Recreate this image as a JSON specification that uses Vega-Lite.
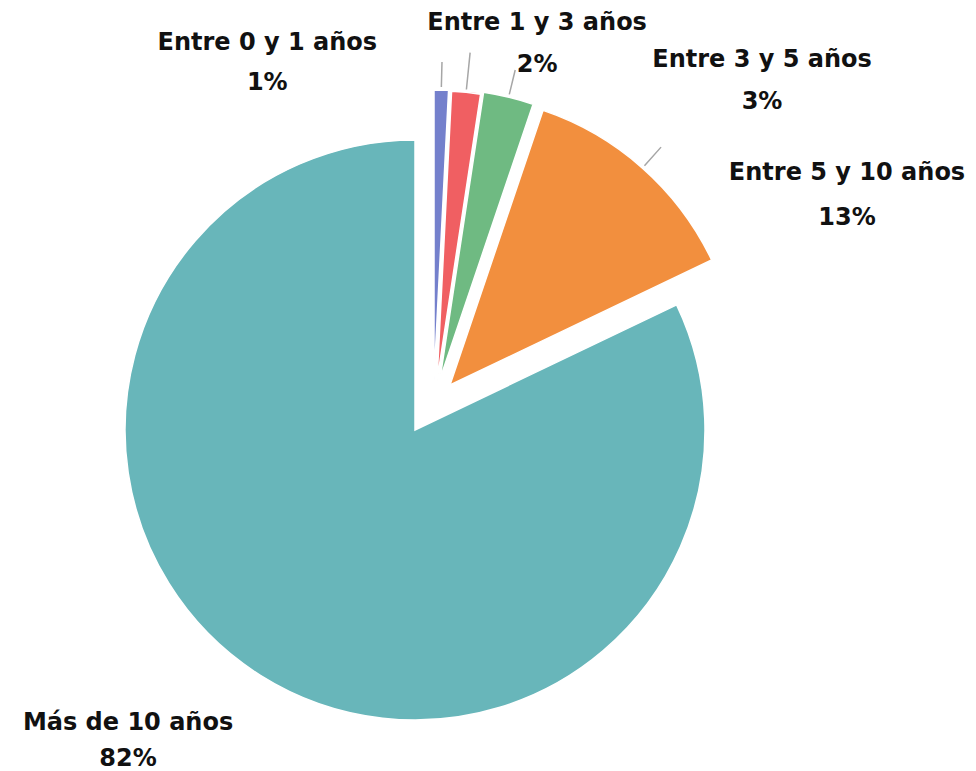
{
  "$schema": "https://vega.github.io/schema/vega-lite/v6.json",
  "autosize": {"type": "none"},
  "width": 830,
  "height": 682,
  "padding": {"left": 0, "top": 89, "right": 146, "bottom": 0},
  "background": "white",
  "config": {"view": {"stroke": null}},
  "data": {
    "values": [
      {"cat": "Entre 0 y 1 años", "value": 0.8},
      {"cat": "Entre 1 y 3 años", "value": 1.6},
      {"cat": "Entre 3 y 5 años", "value": 2.8},
      {"cat": "Entre 5 y 10 años", "value": 12.7},
      {"cat": "Más de 10 años", "value": 82.1}
    ]
  },
  "transform": [
    {"stack": "value", "groupby": [], "sort": [{"field": "cat", "order": "ascending"}], "as": ["v0", "v1"]},
    {"calculate": "(datum.v0 + datum.v1) / 2", "as": "mid"},
    {"calculate": "datum.cat + '\\n' + format(datum.value / 100, '.0%')", "as": "lbl"}
  ],
  "encoding": {
    "theta": {"field": "v0", "type": "quantitative", "scale": {"domain": [0, 100]}},
    "theta2": {"field": "v1"},
    "color": {
      "field": "cat",
      "type": "nominal",
      "scale": {
        "domain": ["Entre 0 y 1 años", "Entre 1 y 3 años", "Entre 3 y 5 años", "Entre 5 y 10 años", "Más de 10 años"],
        "range": ["#7480CC", "#F05F62", "#6FBA82", "#F28F3E", "#68B6BA"]
      },
      "legend": null
    }
  },
  "layer": [
    {
      "transform": [{"filter": {"field": "cat", "equal": "Más de 10 años"}}],
      "mark": {"type": "arc", "radius": 290, "stroke": "white", "strokeWidth": 1.5}
    },
    {
      "transform": [{"filter": {"field": "cat", "equal": "Entre 0 y 1 años"}}],
      "mark": {"type": "arc", "radius": 290, "xOffset": 19, "yOffset": -50, "stroke": "white", "strokeWidth": 1.5}
    },
    {
      "transform": [{"filter": {"field": "cat", "equal": "Entre 1 y 3 años"}}],
      "mark": {"type": "arc", "radius": 290, "xOffset": 22, "yOffset": -49, "stroke": "white", "strokeWidth": 1.5}
    },
    {
      "transform": [{"filter": {"field": "cat", "equal": "Entre 3 y 5 años"}}],
      "mark": {"type": "arc", "radius": 290, "xOffset": 25, "yOffset": -51, "stroke": "white", "strokeWidth": 1.5}
    },
    {
      "transform": [{"filter": {"field": "cat", "equal": "Entre 5 y 10 años"}}],
      "mark": {"type": "arc", "radius": 290, "xOffset": 35, "yOffset": -45, "stroke": "white", "strokeWidth": 1.5}
    },
    {
      "transform": [{"filter": {"field": "cat", "equal": "Entre 0 y 1 años"}}],
      "mark": {"type": "arc", "radius": 318, "radius2": 293, "xOffset": 19, "yOffset": -50, "filled": false, "color": "#A6A6A6", "strokeWidth": 1.5},
      "encoding": {"theta": {"field": "mid", "type": "quantitative", "scale": {"domain": [0, 100]}}, "theta2": {"field": "mid"}, "color": {"value": "#A6A6A6"}}
    },
    {
      "transform": [{"filter": {"field": "cat", "equal": "Entre 1 y 3 años"}}],
      "mark": {"type": "arc", "radius": 330, "radius2": 293, "xOffset": 22, "yOffset": -49, "filled": false, "color": "#A6A6A6", "strokeWidth": 1.5},
      "encoding": {"theta": {"field": "mid", "type": "quantitative", "scale": {"domain": [0, 100]}}, "theta2": {"field": "mid"}, "color": {"value": "#A6A6A6"}}
    },
    {
      "transform": [{"filter": {"field": "cat", "equal": "Entre 3 y 5 años"}}],
      "mark": {"type": "arc", "radius": 318, "radius2": 293, "xOffset": 25, "yOffset": -51, "filled": false, "color": "#A6A6A6", "strokeWidth": 1.5},
      "encoding": {"theta": {"field": "mid", "type": "quantitative", "scale": {"domain": [0, 100]}}, "theta2": {"field": "mid"}, "color": {"value": "#A6A6A6"}}
    },
    {
      "transform": [{"filter": {"field": "cat", "equal": "Entre 5 y 10 años"}}],
      "mark": {"type": "arc", "radius": 318, "radius2": 293, "xOffset": 35, "yOffset": -45, "filled": false, "color": "#A6A6A6", "strokeWidth": 1.5},
      "encoding": {"theta": {"field": "mid", "type": "quantitative", "scale": {"domain": [0, 100]}}, "theta2": {"field": "mid"}, "color": {"value": "#A6A6A6"}}
    },
    {
      "transform": [{"filter": {"field": "cat", "equal": "Entre 0 y 1 años"}}],
      "mark": {"type": "text", "radius": 330, "dx": -156, "dy": -57, "font": "DejaVu Sans", "fontWeight": "bold", "fontSize": 24, "lineBreak": "\n", "lineHeight": 40, "align": "center", "baseline": "middle", "color": "#111111"},
      "encoding": {"theta": {"field": "mid", "type": "quantitative", "scale": {"domain": [0, 100]}}, "text": {"field": "lbl"}, "color": {"value": "#111111"}}
    },
    {
      "transform": [{"filter": {"field": "cat", "equal": "Entre 1 y 3 años"}}],
      "mark": {"type": "text", "radius": 330, "dx": 89, "dy": -79, "font": "DejaVu Sans", "fontWeight": "bold", "fontSize": 24, "lineBreak": "\n", "lineHeight": 42, "align": "center", "baseline": "middle", "color": "#111111"},
      "encoding": {"theta": {"field": "mid", "type": "quantitative", "scale": {"domain": [0, 100]}}, "text": {"field": "lbl"}, "color": {"value": "#111111"}}
    },
    {
      "transform": [{"filter": {"field": "cat", "equal": "Entre 3 y 5 años"}}],
      "mark": {"type": "text", "radius": 330, "dx": 269, "dy": -49, "font": "DejaVu Sans", "fontWeight": "bold", "fontSize": 24, "lineBreak": "\n", "lineHeight": 42, "align": "center", "baseline": "middle", "color": "#111111"},
      "encoding": {"theta": {"field": "mid", "type": "quantitative", "scale": {"domain": [0, 100]}}, "text": {"field": "lbl"}, "color": {"value": "#111111"}}
    },
    {
      "transform": [{"filter": {"field": "cat", "equal": "Entre 5 y 10 años"}}],
      "mark": {"type": "text", "radius": 330, "dx": 213, "dy": -10, "font": "DejaVu Sans", "fontWeight": "bold", "fontSize": 24, "lineBreak": "\n", "lineHeight": 45, "align": "center", "baseline": "middle", "color": "#111111"},
      "encoding": {"theta": {"field": "mid", "type": "quantitative", "scale": {"domain": [0, 100]}}, "text": {"field": "lbl"}, "color": {"value": "#111111"}}
    },
    {
      "transform": [{"filter": {"field": "cat", "equal": "Más de 10 años"}}],
      "mark": {"type": "text", "radius": 330, "dx": -111, "dy": 14, "font": "DejaVu Sans", "fontWeight": "bold", "fontSize": 24, "lineBreak": "\n", "lineHeight": 36, "align": "center", "baseline": "middle", "color": "#111111"},
      "encoding": {"theta": {"field": "mid", "type": "quantitative", "scale": {"domain": [0, 100]}}, "text": {"field": "lbl"}, "color": {"value": "#111111"}}
    }
  ]
}
